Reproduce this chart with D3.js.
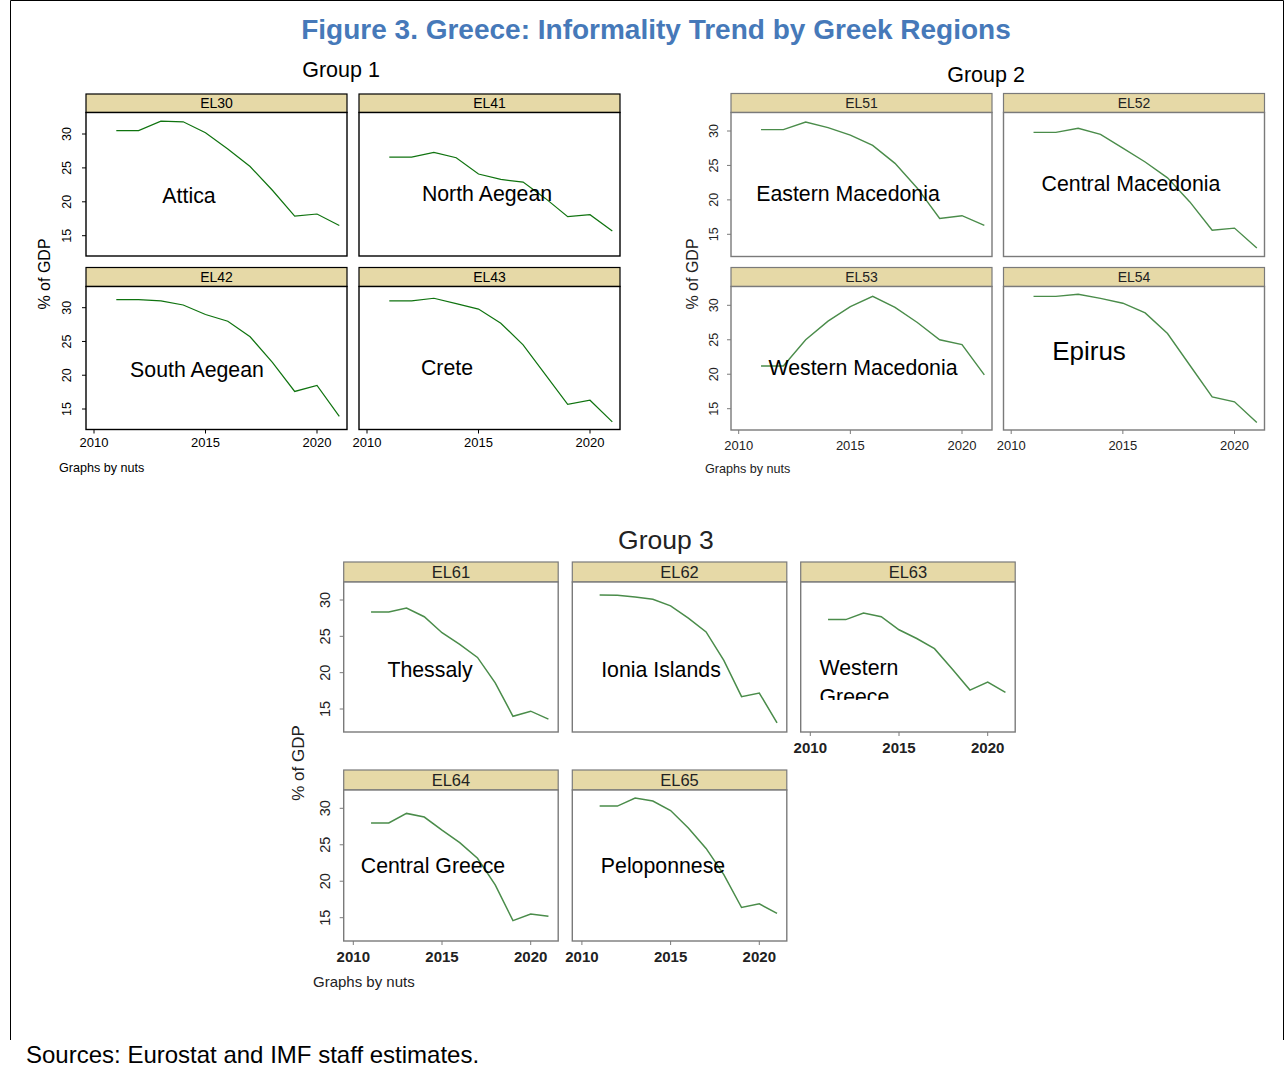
<!DOCTYPE html>
<html lang="en">
<head>
<meta charset="UTF-8">
<title>Figure 3. Greece: Informality Trend by Greek Regions</title>
<script src="https://d3js.org/d3.v7.min.js"></script>
<style>
  body { margin: 0; background: #fff; }
  svg { display: block; font-family: "Liberation Sans", Arial, sans-serif; }
</style>
</head>
<body>
<div id="chart"></div>
<script>
// data: informal economy, % of GDP, 2011-2021
var years = [2011, 2012, 2013, 2014, 2015, 2016, 2017, 2018, 2019, 2020, 2021];
var xTicks = [2010, 2015, 2020];
var yTicks = [15, 20, 25, 30];

var el30 = [30.5, 30.5, 31.9, 31.8, 30.2, 27.8, 25.2, 21.7, 17.9, 18.2, 16.5];
var el41 = [26.6, 26.6, 27.3, 26.5, 24.1, 23.3, 22.9, 20.5, 17.8, 18.1, 15.7];
var el42 = [31.2, 31.2, 31.0, 30.4, 29.0, 28.0, 25.7, 21.9, 17.6, 18.5, 13.9];
var el43 = [31.0, 31.0, 31.4, 30.6, 29.8, 27.7, 24.5, 20.1, 15.7, 16.3, 13.1];
var el51 = [30.2, 30.2, 31.3, 30.5, 29.4, 27.9, 25.3, 21.7, 17.3, 17.7, 16.3];
var el52 = [29.8, 29.8, 30.4, 29.5, 27.5, 25.5, 23.2, 19.7, 15.6, 15.9, 13.0];
var el53 = [21.2, 21.2, 25.0, 27.7, 29.8, 31.3, 29.7, 27.5, 25.0, 24.3, 19.9];
var el54 = [31.3, 31.3, 31.6, 31.0, 30.3, 28.9, 25.9, 21.3, 16.7, 16.0, 13.0];
var el61 = [28.35, 28.35, 28.9, 27.7, 25.5, 23.9, 22.1, 18.6, 14.0, 14.7, 13.6];
var el62 = [30.7, 30.65, 30.4, 30.1, 29.2, 27.5, 25.6, 21.7, 16.7, 17.2, 13.1];
var el63 = [27.3, 27.3, 28.2, 27.7, 25.9, 24.7, 23.3, 20.5, 17.6, 18.7, 17.3];
var el64 = [28.0, 28.0, 29.3, 28.8, 27.0, 25.3, 23.15, 19.5, 14.6, 15.5, 15.2];
var el65 = [30.3, 30.3, 31.4, 31.0, 29.7, 27.3, 24.5, 20.9, 16.4, 16.9, 15.6];

var W = 1288, H = 1068;
var svg = d3.select("#chart").append("svg")
    .attr("width", W)
    .attr("height", H);

// frame
svg.append("path")
    .attr("d", "M10.5,1040 V0.5 H1283.5 V1040")
    .attr("fill", "none")
    .attr("stroke", "#000")
    .attr("stroke-width", 1);

svg.append("text")
    .attr("x", 656).attr("y", 39)
    .attr("text-anchor", "middle")
    .style("font-size", "28px")
    .style("font-weight", "bold")
    .style("fill", "#4679b9")
    .text("Figure 3. Greece: Informality Trend by Greek Regions");

svg.append("text")
    .attr("x", 26).attr("y", 1063)
    .style("font-size", "24px")
    .style("fill", "#000")
    .text("Sources: Eurostat and IMF staff estimates.");

var clipId = 0;

// one panel of a small-multiple group
function panel(g, p) {
    var x = d3.scaleLinear().domain([2010, 2020]).range([p.left + g.x0, p.left + g.x1]);
    var y = d3.scaleLinear().domain([15, 30]).range([p.y15, p.y30]);

    // header strip
    svg.append("rect")
        .attr("x", p.left).attr("y", p.top)
        .attr("width", g.w).attr("height", p.plotTop - p.top)
        .attr("fill", "#e6d9a7")
        .attr("stroke", g.border).attr("stroke-width", 1.2);
    svg.append("text")
        .attr("x", p.left + g.w / 2).attr("y", p.top + (p.plotTop - p.top) / 2 + g.hdrSize * 0.36)
        .attr("text-anchor", "middle")
        .style("font-size", g.hdrSize + "px")
        .style("fill", g.text)
        .text(p.code);

    // plot box
    svg.append("rect")
        .attr("x", p.left).attr("y", p.plotTop)
        .attr("width", g.w).attr("height", p.bottom - p.plotTop)
        .attr("fill", "#fff")
        .attr("stroke", g.border).attr("stroke-width", 1.4);

    // y axis
    if (p.yAxis) {
        yTicks.forEach(function(t) {
            svg.append("line")
                .attr("x1", p.left - 4).attr("x2", p.left)
                .attr("y1", y(t)).attr("y2", y(t))
                .attr("stroke", g.border);
            svg.append("text")
                .attr("transform", "translate(" + (p.left - g.yOff) + "," + y(t) + ") rotate(-90)")
                .attr("text-anchor", "middle")
                .style("font-size", g.ytSize + "px")
                .style("fill", g.text)
                .text(t);
        });
    }
    // x axis
    if (p.xAxis) {
        xTicks.forEach(function(t) {
            svg.append("line")
                .attr("x1", x(t)).attr("x2", x(t))
                .attr("y1", p.bottom).attr("y2", p.bottom + 4)
                .attr("stroke", g.border);
            svg.append("text")
                .attr("x", x(t)).attr("y", p.bottom + g.xOff)
                .attr("text-anchor", "middle")
                .style("font-size", g.tickSize + "px")
                .style("font-weight", g.tickWeight || "normal")
                .style("fill", g.text)
                .text(t);
        });
    }

    // series line
    var line = d3.line()
        .x(function(d, i) { return x(years[i]); })
        .y(function(d) { return y(d); });
    svg.append("path")
        .datum(p.values)
        .attr("d", line)
        .attr("fill", "none")
        .attr("stroke", g.lineColor)
        .attr("stroke-width", g.lineWidth);

    // region label (drawn on top of the line, as in the original)
    var id = "clip" + (clipId++);
    var lbl = svg.append("g");
    if (p.clipY) {
        svg.append("clipPath").attr("id", id)
            .append("rect")
            .attr("x", p.left).attr("y", p.plotTop)
            .attr("width", g.w).attr("height", p.clipY - p.plotTop);
        lbl.attr("clip-path", "url(#" + id + ")");
    }
    var lines = p.name.split("\n");
    lines.forEach(function(s, k) {
        lbl.append("text")
            .attr("x", p.lx).attr("y", p.ly + k * p.lsize * 1.4 + p.lsize * 0.36)
            .attr("text-anchor", p.anchor || "middle")
            .style("font-size", p.lsize + "px")
            .style("fill", "#000")
            .text(s);
    });
}

function caption(x, y, size, s, anchor, color, rot) {
    var t = svg.append("text")
        .attr("text-anchor", anchor || "middle")
        .style("font-size", size + "px")
        .style("fill", color || "#000")
        .text(s);
    if (rot) t.attr("transform", "translate(" + x + "," + y + ") rotate(-90)");
    else t.attr("x", x).attr("y", y);
}

// ---- Group 1
var g1 = { w: 261, x0: 8, x1: 231, border: "#000", lineColor: "#0f730f", lineWidth: 1.2,
           text: "#000", hdrSize: 14, tickSize: 13, ytSize: 12.5, yOff: 15, xOff: 17 };
caption(341, 77, 21.5, "Group 1");
panel(g1, { code: "EL30", name: "Attica", values: el30, left: 86, top: 94, plotTop: 112.5, bottom: 256,
            y30: 134, y15: 235.7, yAxis: true, xAxis: false, lx: 189, ly: 195, lsize: 21.3 });
panel(g1, { code: "EL41", name: "North Aegean", values: el41, left: 359, top: 94, plotTop: 112.5, bottom: 256,
            y30: 134, y15: 235.7, yAxis: false, xAxis: false, lx: 487, ly: 193, lsize: 21.3 });
panel(g1, { code: "EL42", name: "South Aegean", values: el42, left: 86, top: 267.5, plotTop: 286.5, bottom: 429.5,
            y30: 307.7, y15: 409, yAxis: true, xAxis: true, lx: 197, ly: 369, lsize: 21.3 });
panel(g1, { code: "EL43", name: "Crete", values: el43, left: 359, top: 267.5, plotTop: 286.5, bottom: 429.5,
            y30: 307.7, y15: 409, yAxis: false, xAxis: true, lx: 447, ly: 367, lsize: 21.3 });
caption(50, 274, 16, "% of GDP", "middle", "#000", true);
caption(59, 472, 12.6, "Graphs by nuts", "start");

// ---- Group 2
var g2 = { w: 261, x0: 7.7, x1: 231, border: "#7a7a7a", lineColor: "#4a8c4a", lineWidth: 1.4,
           text: "#222", hdrSize: 14, tickSize: 13, ytSize: 12.5, yOff: 13, xOff: 20 };
caption(986, 82, 21.5, "Group 2");
panel(g2, { code: "EL51", name: "Eastern Macedonia", values: el51, left: 731, top: 93.5, plotTop: 112.5, bottom: 256.5,
            y30: 131, y15: 234.3, yAxis: true, xAxis: false, lx: 848, ly: 193, lsize: 21.3 });
panel(g2, { code: "EL52", name: "Central Macedonia", values: el52, left: 1003.5, top: 93.5, plotTop: 112.5, bottom: 256.5,
            y30: 131, y15: 234.3, yAxis: false, xAxis: false, lx: 1131, ly: 183, lsize: 21.3 });
panel(g2, { code: "EL53", name: "Western Macedonia", values: el53, left: 731, top: 267.5, plotTop: 286.5, bottom: 430,
            y30: 305.3, y15: 408.7, yAxis: true, xAxis: true, lx: 863, ly: 367, lsize: 21.3 });
panel(g2, { code: "EL54", name: "Epirus", values: el54, left: 1003.5, top: 267.5, plotTop: 286.5, bottom: 430,
            y30: 305.3, y15: 408.7, yAxis: false, xAxis: true, lx: 1089, ly: 351, lsize: 26 });
caption(698, 274, 16, "% of GDP", "middle", "#222", true);
caption(705, 473, 12.6, "Graphs by nuts", "start", "#222");

// ---- Group 3
var g3 = { w: 214.5, x0: 9.6, x1: 187, border: "#7a7a7a", lineColor: "#4a8c4a", lineWidth: 1.5,
           text: "#222", hdrSize: 16.5, tickSize: 15, tickWeight: "bold", ytSize: 14.5, yOff: 14, xOff: 21 };
caption(666, 549, 26.5, "Group 3", "middle", "#222");
panel(g3, { code: "EL61", name: "Thessaly", values: el61, left: 343.7, top: 562, plotTop: 582, bottom: 732,
            y30: 600, y15: 709, yAxis: true, xAxis: false, lx: 430, ly: 669, lsize: 21.3 });
panel(g3, { code: "EL62", name: "Ionia Islands", values: el62, left: 572.3, top: 562, plotTop: 582, bottom: 732,
            y30: 600, y15: 709, yAxis: false, xAxis: false, lx: 661, ly: 669, lsize: 21.3 });
panel(g3, { code: "EL63", name: "Western\nGreece", values: el63, left: 800.7, top: 562, plotTop: 582, bottom: 732,
            y30: 600, y15: 709, yAxis: false, xAxis: true, lx: 819.5, ly: 667, lsize: 21.3, anchor: "start", clipY: 700 });
panel(g3, { code: "EL64", name: "Central Greece", values: el64, left: 343.7, top: 770, plotTop: 790, bottom: 941,
            y30: 808.3, y15: 917.7, yAxis: true, xAxis: true, lx: 433, ly: 865, lsize: 21.3 });
panel(g3, { code: "EL65", name: "Peloponnese", values: el65, left: 572.3, top: 770, plotTop: 790, bottom: 941,
            y30: 808.3, y15: 917.7, yAxis: false, xAxis: true, lx: 663, ly: 865, lsize: 21.3 });
caption(304, 763, 17, "% of GDP", "middle", "#222", true);
caption(313, 987, 15, "Graphs by nuts", "start", "#222");
</script>
</body>
</html>
